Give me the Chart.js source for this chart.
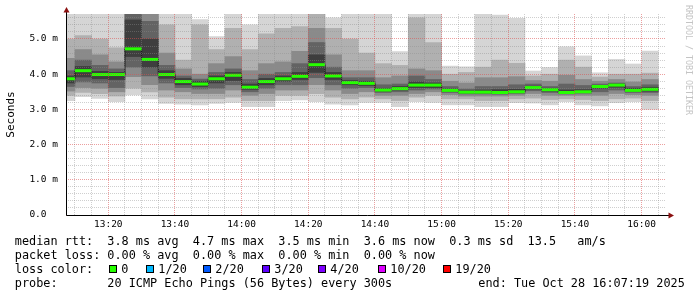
<!doctype html>
<html lang="en">

<head>
    <meta charset="utf-8">
    <title>SmokePing - last 3 hours</title>
    <script src="https://cdn.jsdelivr.net/npm/chart.js"></script>
    <style>
        html, body { margin: 0; padding: 0; background: #ffffff; }
        #grafico { display: block; }
    </style>
</head>

<body>
    <canvas id="grafico" width="697" height="297"></canvas>

    <script>

        // shown time range
        var rangeStart = '13:07:19';
        var rangeEnd = '16:07:19';

        // 5 minute slots (label = end of slot)
        var slotEnd = ['13:10', '13:15', '13:20', '13:25', '13:30', '13:35', '13:40', '13:45', '13:50', '13:55',
            '14:00', '14:05', '14:10', '14:15', '14:20', '14:25', '14:30', '14:35', '14:40', '14:45',
            '14:50', '14:55', '15:00', '15:05', '15:10', '15:15', '15:20', '15:25', '15:30', '15:35',
            '15:40', '15:45', '15:50', '15:55', '16:00', '16:05'];

        // median rtt (ms)
        var median = [3.87, 4.10, 3.99, 3.99, 4.72, 4.42, 3.99, 3.79, 3.72, 3.87, 3.97, 3.63, 3.79, 3.87, 3.94, 4.27, 3.95, 3.76,
            3.74, 3.55, 3.59, 3.69, 3.69, 3.54, 3.49, 3.49, 3.48, 3.50, 3.62, 3.56, 3.48, 3.50, 3.65, 3.69, 3.54, 3.57];

        // sorted pings of each slot (ms), 1 = fastest, 20 = slowest
        var ping1 = [3.25, 3.36, 3.31, 3.22, 3.41, 3.30, 3.17, 3.15, 3.13, 3.17, 3.20, 3.08, 3.08, 3.25, 3.27, 3.22, 3.15, 3.13,
            3.20, 3.20, 3.08, 3.22, 3.20, 3.13, 3.13, 3.08, 3.08, 3.19, 3.18, 3.13, 3.22, 3.13, 3.10, 3.19, 3.22, 3.00];
        var ping3 = [3.40, 3.48, 3.45, 3.38, 3.60, 3.50, 3.35, 3.30, 3.30, 3.30, 3.35, 3.25, 3.25, 3.40, 3.40, 3.45, 3.35, 3.30,
            3.35, 3.30, 3.25, 3.35, 3.40, 3.30, 3.30, 3.25, 3.25, 3.30, 3.32, 3.28, 3.30, 3.28, 3.25, 3.30, 3.32, 3.25];
        var ping5 = [3.52, 3.62, 3.60, 3.50, 3.93, 3.70, 3.55, 3.50, 3.45, 3.45, 3.55, 3.40, 3.45, 3.55, 3.55, 3.70, 3.55, 3.45,
            3.50, 3.40, 3.40, 3.45, 3.50, 3.42, 3.38, 3.38, 3.38, 3.40, 3.45, 3.40, 3.40, 3.40, 3.40, 3.45, 3.42, 3.40];
        var ping7 = [3.65, 3.78, 3.75, 3.62, 4.20, 3.95, 3.75, 3.62, 3.58, 3.60, 3.70, 3.50, 3.60, 3.70, 3.70, 3.90, 3.70, 3.60,
            3.62, 3.48, 3.50, 3.55, 3.58, 3.48, 3.44, 3.44, 3.43, 3.45, 3.53, 3.48, 3.44, 3.46, 3.50, 3.55, 3.48, 3.48];
        var ping9 = [3.75, 3.92, 3.87, 3.85, 4.50, 4.20, 3.88, 3.70, 3.65, 3.75, 3.82, 3.57, 3.70, 3.80, 3.85, 4.05, 3.85, 3.70,
            3.68, 3.52, 3.55, 3.62, 3.62, 3.52, 3.47, 3.47, 3.46, 3.48, 3.58, 3.52, 3.47, 3.48, 3.60, 3.63, 3.52, 3.52];
        var ping12 = [3.95, 4.22, 4.08, 4.05, 5.54, 5.00, 4.10, 3.88, 3.80, 3.95, 4.05, 3.72, 3.88, 3.95, 4.05, 4.55, 4.05, 3.82,
            3.80, 3.60, 3.65, 3.78, 3.75, 3.58, 3.53, 3.55, 3.56, 3.57, 3.66, 3.60, 3.55, 3.56, 3.68, 3.72, 3.60, 3.63];
        var ping14 = [4.10, 4.40, 4.25, 4.15, 5.75, 5.50, 4.25, 3.95, 3.86, 4.05, 4.15, 3.85, 4.00, 4.05, 4.30, 4.90, 4.20, 3.90,
            3.90, 3.70, 3.72, 3.95, 3.85, 3.65, 3.58, 3.65, 3.65, 3.70, 3.72, 3.65, 3.72, 3.68, 3.72, 3.75, 3.65, 3.70];
        var ping16 = [4.45, 4.70, 4.55, 4.35, 5.90, 5.80, 4.60, 4.15, 4.00, 4.30, 4.50, 4.10, 4.30, 4.35, 4.65, 5.30, 4.55, 4.10,
            4.10, 3.90, 3.95, 4.15, 4.10, 3.80, 3.75, 3.90, 3.90, 3.93, 3.82, 3.80, 3.97, 3.85, 3.80, 3.85, 3.78, 3.85];
        var ping18 = [5.00, 5.10, 5.00, 4.75, 6.20, 6.00, 5.40, 4.40, 5.40, 4.70, 5.30, 4.70, 5.15, 5.30, 5.35, 5.75, 5.30, 5.00,
            4.60, 4.30, 4.25, 5.60, 4.90, 4.00, 4.05, 4.20, 4.40, 4.31, 3.95, 4.00, 4.40, 4.20, 3.92, 4.00, 4.00, 4.03];
        var ping20 = [6.00, 6.00, 6.00, 6.00, 6.50, 6.30, 6.00, 6.00, 5.55, 5.07, 5.90, 5.40, 5.90, 5.70, 5.90, 6.00, 5.60, 5.90,
            5.90, 5.90, 4.64, 5.75, 5.90, 4.23, 4.21, 5.90, 5.68, 5.59, 4.09, 4.19, 4.78, 4.52, 4.04, 4.42, 4.29, 4.66];

        var yTickLabels = ['0.0  ', '1.0 m', '2.0 m', '3.0 m', '4.0 m', '5.0 m'];
        var xTickLabels = ['13:20', '13:40', '14:00', '14:20', '14:40', '15:00', '15:20', '15:40', '16:00'];

        var lossLabels = ['0', '1/20', '2/20', '3/20', '4/20', '10/20', '19/20'];
        var lossColors = ['#26ff00', '#00b8ff', '#0059ff', '#5e00ff', '#7e00ff', '#dd00ff', '#ff0000'];


        var gridColor = 'rgba(140, 140, 140, 0.42)';
        var majorGridColor = 'rgba(220, 80, 80, 0.55)';
        var mono = 'DejaVu Sans Mono';

        function toMin(s) {
            var p = s.split(':');
            return Number(p[0]) * 60 + Number(p[1]) + (p[2] ? Number(p[2]) / 60 : 0);
        }

        function hhmm(v) {
            var h = Math.floor(v / 60);
            var m = Math.round(v - h * 60);
            return h + ':' + (m < 10 ? '0' + m : m);
        }

        function slotCenter(i) {
            return toMin(slotEnd[i]) - 2.5;
        }

        // one smoke band = floating bars between two ping ranks
        function smoke(lo, hi, cor, ordem) {
            return {
                type: 'bar',
                data: slotEnd.map(function (t, i) {
                    return { x: slotCenter(i), y: [lo[i], hi[i]] };
                }),
                backgroundColor: cor,
                borderWidth: 0,
                grouped: false,
                barPercentage: 1,
                categoryPercentage: 1,
                order: ordem
            };
        }

        var medianPoints = slotEnd.map(function (t, i) {
            return { x: slotCenter(i), y: median[i] };
        });

        var extras = {
            id: 'extras',
            afterDraw: function (chart) {
                var ctx = chart.ctx;
                var a = chart.chartArea;
                var x0 = a.left + 0.5;
                var y0 = a.bottom + 0.5;

                ctx.save();

                // axes
                ctx.strokeStyle = '#000000';
                ctx.lineWidth = 1;
                ctx.beginPath();
                ctx.moveTo(x0, y0);
                ctx.lineTo(a.right + 3, y0);
                ctx.moveTo(x0, y0);
                ctx.lineTo(x0, a.top - 2);
                ctx.stroke();

                // arrows
                ctx.fillStyle = '#8b1010';
                ctx.beginPath();
                ctx.moveTo(x0 - 3, a.top - 1.5);
                ctx.lineTo(x0 + 3, a.top - 1.5);
                ctx.lineTo(x0, a.top - 7);
                ctx.closePath();
                ctx.fill();
                ctx.beginPath();
                ctx.moveTo(a.right + 2.5, y0 - 3);
                ctx.lineTo(a.right + 2.5, y0 + 3);
                ctx.lineTo(a.right + 8, y0);
                ctx.closePath();
                ctx.fill();

                // rrdtool watermark
                ctx.save();
                ctx.translate(688, 60);
                ctx.rotate(Math.PI / 2);
                ctx.font = '8.3px "' + mono + '"';
                ctx.fillStyle = '#c4c4c4';
                ctx.textAlign = 'center';
                ctx.textBaseline = 'middle';
                ctx.fillText('RRDTOOL / TOBI OETIKER', 0, 0);
                ctx.restore();

                // legend
                ctx.font = '11.84px "' + mono + '"';
                ctx.fillStyle = '#000000';
                ctx.textAlign = 'left';
                ctx.textBaseline = 'alphabetic';
                ctx.fillText('median rtt:  3.8 ms avg  4.7 ms max  3.5 ms min  3.6 ms now  0.3 ms sd  13.5   am/s', 14.8, 244.5);
                ctx.fillText('packet loss: 0.00 % avg  0.00 % max  0.00 % min  0.00 % now', 14.8, 258.7);
                ctx.fillText('loss color:', 14.8, 272.9);
                ctx.fillText('probe:       20 ICMP Echo Pings (56 Bytes) every 300s', 14.8, 287.1);
                ctx.fillText('end: Tue Oct 28 16:07:19 2025', 478.3, 287.1);

                var boxX = [109, 146, 203, 262, 318, 378, 443];
                for (var i = 0; i < lossLabels.length; i++) {
                    ctx.fillStyle = lossColors[i];
                    ctx.fillRect(boxX[i], 265, 8, 8);
                    ctx.strokeStyle = '#000000';
                    ctx.strokeRect(boxX[i] + 0.5, 265.5, 7, 7);
                    ctx.fillStyle = '#000000';
                    ctx.fillText(lossLabels[i], boxX[i] + 12.3, 272.9);
                }

                ctx.restore();
            }
        };

        var ctx = document.getElementById('grafico');

        new Chart(ctx, {
            type: 'bar',
            data: {
                datasets: [
                    {
                        type: 'line',
                        data: medianPoints,
                        showLine: false,
                        pointStyle: 'line',
                        pointRadius: 8.33,
                        pointBorderWidth: 3,
                        pointBorderColor: lossColors[0],
                        pointBackgroundColor: lossColors[0],
                        clip: 0,
                        order: 0
                    },
                    {
                        type: 'line',
                        data: medianPoints,
                        stepped: 'middle',
                        borderColor: '#1a1a1a',
                        borderWidth: 1,
                        pointRadius: 0,
                        fill: false,
                        clip: 0,
                        order: 1
                    },
                    smoke(ping9, ping12, '#3e3e3e', 2),
                    smoke(ping7, ping14, '#636363', 3),
                    smoke(ping5, ping16, '#8a8a8a', 4),
                    smoke(ping3, ping18, '#b0b0b0', 5),
                    smoke(ping1, ping20, '#d5d5d5', 6)
                ]
            },
            options: {
                responsive: false,
                animation: false,
                events: [],
                layout: {
                    padding: { top: 14, right: 31, bottom: 66, left: 0 }
                },
                plugins: {
                    legend: { display: false },
                    tooltip: { enabled: false }
                },
                scales: {
                    x: {
                        type: 'linear',
                        min: toMin(rangeStart),
                        max: toMin(rangeEnd),
                        offset: false,
                        afterBuildTicks: function (scale) {
                            var t = [];
                            for (var v = Math.ceil(scale.min / 5) * 5; v <= scale.max; v += 5) {
                                t.push({ value: v });
                            }
                            scale.ticks = t;
                        },
                        afterFit: function (scale) {
                            scale.height = 16;
                        },
                        ticks: {
                            autoSkip: false,
                            maxRotation: 0,
                            padding: 4,
                            color: '#000000',
                            font: { family: mono, size: 9.5 },
                            callback: function (v) {
                                var lab = hhmm(v);
                                return xTickLabels.indexOf(lab) >= 0 ? lab : '';
                            }
                        },
                        grid: {
                            offset: false,
                            drawTicks: false,
                            lineWidth: 1,
                            z: 1,
                            color: function (c) {
                                return c.tick && Math.round(c.tick.value) % 20 === 0 ? majorGridColor : gridColor;
                            }
                        },
                        border: { display: false, dash: [1, 1] }
                    },
                    y: {
                        min: 0,
                        max: 5.71,
                        afterBuildTicks: function (scale) {
                            var t = [];
                            for (var k = 0; k / 5 <= scale.max; k++) {
                                t.push({ value: k / 5 });
                            }
                            scale.ticks = t;
                        },
                        afterFit: function (scale) {
                            scale.width = 66;
                        },
                        ticks: {
                            autoSkip: false,
                            padding: 8,
                            color: '#000000',
                            font: { family: mono, size: 9.5 },
                            callback: function (v) {
                                var k = Math.round(v * 5);
                                return k % 5 === 0 ? yTickLabels[k / 5] : '';
                            }
                        },
                        grid: {
                            drawTicks: false,
                            lineWidth: 1,
                            z: 1,
                            color: function (c) {
                                return c.tick && Math.round(c.tick.value * 5) % 5 === 0 ? majorGridColor : gridColor;
                            }
                        },
                        border: { display: false, dash: [1, 1] },
                        title: {
                            display: true,
                            text: 'Seconds',
                            color: '#000000',
                            font: { family: mono, size: 11 },
                            padding: { top: 4.5, bottom: 0 }
                        }
                    }
                }
            },
            plugins: [extras]
        });

    </script>
</body>

</html>
